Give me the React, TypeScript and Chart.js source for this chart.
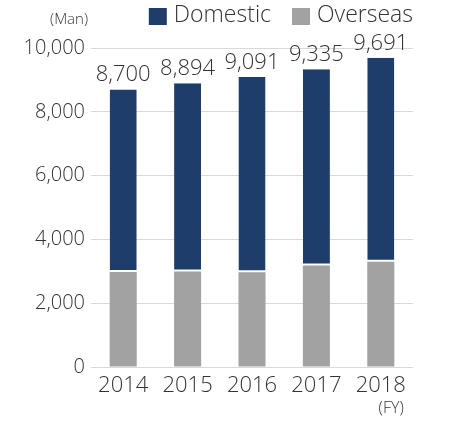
import React, { useEffect, useRef } from "react";
import { Chart, registerables } from "chart.js";

Chart.register(...registerables);

const categories = ["2014", "2015", "2016", "2017", "2018"];
const overseas = [2980, 2990, 2970, 3180, 3300];
const domestic = [5720, 5904, 6121, 6155, 6391];
const yTicks = [0, 2000, 4000, 6000, 8000, 10000];
const seriesNames = ["Overseas", "Domestic"];

const FONT = "'Open Sans', 'DejaVu Sans', sans-serif";
const TEXT = "#333333";
const NAVY = "#1f3d6a";
const GRAY = "#a2a2a2";
const GRID = "#d9d9d9";

const fmt = (v: number) => v.toLocaleString("en-US");

const extras = {
  id: "extras",
  afterDatasetsDraw(chart: any) {
    const ctx = chart.ctx as CanvasRenderingContext2D;
    const xs = chart.scales.x;
    const ys = chart.scales.y;
    const area = chart.chartArea;
    ctx.save();
    ctx.fillStyle = TEXT;

    // totals above bars
    ctx.font = `300 22px ${FONT}`;
    ctx.textAlign = "center";
    ctx.textBaseline = "alphabetic";
    categories.forEach((_, i) => {
      const total = chart.data.datasets.reduce((s: number, d: any) => s + d.data[i], 0);
      const px = xs.getPixelForValue(i);
      const py = ys.getPixelForValue(total);
      ctx.fillText(fmt(total), px, py - 8);
    });

    // unit labels
    ctx.font = `300 15px ${FONT}`;
    ctx.textAlign = "right";
    ctx.textBaseline = "middle";
    ctx.fillText("(Man)", area.left - 3, 20);
    ctx.font = `300 16px ${FONT}`;
    ctx.fillText("(FY)", xs.getPixelForValue(categories.length - 1) + 23, 408);

    // legend (Domestic, Overseas)
    ctx.font = `300 23px ${FONT}`;
    ctx.textAlign = "left";
    ctx.textBaseline = "alphabetic";
    const items = [...chart.data.datasets].reverse();
    let right = area.right;
    const positions: any[] = [];
    for (let k = items.length - 1; k >= 0; k--) {
      const w = ctx.measureText(items[k].label).width;
      const textX = right - w;
      const boxX = textX - 7 - 18;
      positions[k] = { textX, boxX };
      right = boxX - 21;
    }
    items.forEach((d: any, k: number) => {
      ctx.fillStyle = d.backgroundColor;
      ctx.fillRect(positions[k].boxX, 8, 18, 17);
      ctx.fillStyle = TEXT;
      ctx.fillText(d.label, positions[k].textX, 22);
    });
    ctx.restore();
  },
};

export default function App() {
  const ref = useRef<HTMLCanvasElement | null>(null);
  useEffect(() => {
    if (!ref.current) return;
    const chart = new Chart(ref.current, {
      type: "bar",
      data: {
        labels: categories,
        datasets: [
          {
            label: seriesNames[0],
            data: overseas,
            backgroundColor: GRAY,
            borderWidth: 0,
            barPercentage: 0.42,
            categoryPercentage: 1,
          },
          {
            label: seriesNames[1],
            data: domestic,
            backgroundColor: NAVY,
            borderColor: "#ffffff",
            borderWidth: { top: 0, left: 0, right: 0, bottom: 2 },
            borderSkipped: false,
            barPercentage: 0.42,
            categoryPercentage: 1,
          },
        ],
      },
      options: {
        responsive: false,
        animation: false,
        devicePixelRatio: 1,
        layout: { padding: { top: 48, right: 40, bottom: 0, left: 0 } },
        plugins: {
          legend: { display: false },
          tooltip: { enabled: false },
        },
        scales: {
          x: {
            stacked: true,
            grid: { display: false, drawTicks: false },
            border: { display: false },
            ticks: {
              color: TEXT,
              font: { family: FONT, size: 22, weight: "300" as any },
              padding: 6,
            },
            afterFit: (s: any) => {
              s.height = 54;
            },
          },
          y: {
            stacked: true,
            min: 0,
            max: 10000,
            grid: { color: GRID, lineWidth: 1, drawTicks: false },
            border: { display: false },
            afterBuildTicks: (s: any) => {
              s.ticks = yTicks.map((v) => ({ value: v }));
            },
            ticks: {
              color: TEXT,
              font: { family: FONT, size: 20, weight: "300" as any },
              padding: 6,
              callback: (v: any) => fmt(Number(v)),
            },
            afterFit: (s: any) => {
              s.width = 91;
            },
          },
        },
      },
      plugins: [extras],
    });
    return () => chart.destroy();
  }, []);
  return (
    <div style={{ position: "absolute", left: 0, top: 0, width: 453, height: 421, background: "#fff" }}>
      <canvas ref={ref} width={453} height={421} style={{ display: "block" }} />
    </div>
  );
}
